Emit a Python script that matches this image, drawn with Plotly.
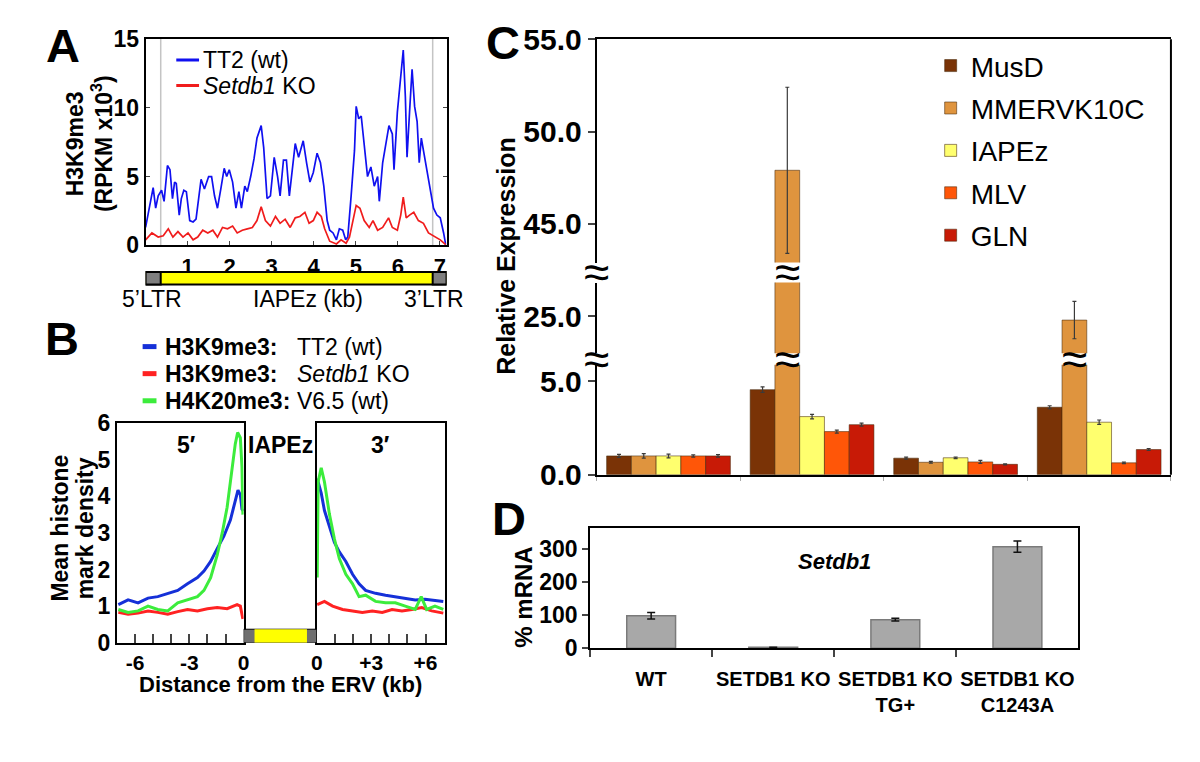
import plotly.graph_objects as go

FONT = "Liberation Sans, Arial, Helvetica, sans-serif"
W, H = 1200, 762

# ---------------- Panel A : H3K9me3 along IAPEz ----------------
A_kb_wt = [0.0, 0.15, 0.18, 0.24, 0.30, 0.38, 0.44, 0.52, 0.58, 0.64, 0.69, 0.73, 0.80, 0.85, 0.91,
           0.97, 1.05, 1.13, 1.20, 1.32, 1.40, 1.50, 1.57, 1.64, 1.71, 1.79, 1.87, 1.93, 1.99, 2.07,
           2.15, 2.22, 2.28, 2.36, 2.42, 2.50, 2.58, 2.65, 2.75, 2.81, 2.89, 2.97, 3.06, 3.14, 3.20,
           3.28, 3.35, 3.42, 3.50, 3.56, 3.64, 3.70, 3.75, 3.83, 3.91, 3.99, 4.08, 4.16, 4.24, 4.32,
           4.38, 4.46, 4.54, 4.61, 4.69, 4.76, 4.81, 4.89, 4.97, 5.01, 5.07, 5.13, 5.20, 5.28, 5.36,
           5.44, 5.52, 5.56, 5.64, 5.71, 5.79, 5.87, 5.91, 5.99, 6.07, 6.13, 6.18, 6.22, 6.28, 6.34,
           6.40, 6.46, 6.51, 6.56, 6.61, 6.69, 6.77, 6.85, 6.93, 7.01, 7.09, 7.14]
A_wt = [1.3, 3.6, 4.2, 2.7, 3.6, 4.0, 3.2, 5.8, 5.5, 3.4, 4.6, 4.5, 2.2, 3.4, 4.0,
        3.9, 1.8, 1.7, 1.9, 4.8, 4.1, 5.0, 5.0, 3.6, 2.7, 4.1, 5.6, 5.0, 5.5, 4.6,
        2.7, 3.9, 2.7, 4.3, 3.9, 5.0, 6.3, 7.8, 8.7, 7.1, 3.4, 3.6, 6.4, 5.0, 3.6,
        6.2, 6.2, 3.6, 5.7, 7.4, 6.4, 7.1, 7.6, 6.0, 4.6, 5.3, 6.7, 6.0, 4.3, 1.8,
        1.1, 0.9, 0.4, 1.2, 1.1, 0.4, 0.6, 3.6, 6.9, 10.1, 9.2, 9.4, 7.4, 5.0, 5.7,
        4.3, 5.0, 3.2, 6.0, 7.4, 8.7, 8.1, 5.5, 9.7, 12.0, 14.2, 10.8, 6.4, 9.7, 12.8,
        10.1, 9.0, 6.0, 7.8, 6.9, 5.5, 4.1, 2.7, 2.2, 2.0, 0.9, 0.05]
A_kb_ko = [0.0, 0.15, 0.30, 0.42, 0.54, 0.65, 0.77, 0.89, 1.01, 1.13, 1.24, 1.36, 1.48, 1.60, 1.71,
           1.83, 1.95, 2.07, 2.18, 2.30, 2.42, 2.54, 2.65, 2.75, 2.85, 2.97, 3.09, 3.20, 3.32, 3.44,
           3.56, 3.67, 3.79, 3.89, 3.99, 4.08, 4.18, 4.26, 4.38, 4.54, 4.65, 4.77, 4.85, 4.93, 5.01,
           5.10, 5.20, 5.32, 5.41, 5.52, 5.64, 5.78, 5.87, 5.99, 6.07, 6.13, 6.20, 6.28, 6.38, 6.49,
           6.61, 6.73, 6.89, 7.01, 7.14]
A_ko = [0.4, 0.9, 0.6, 0.7, 1.2, 0.6, 1.0, 0.6, 0.9, 0.4, 0.6, 1.1, 0.9, 1.1, 0.6,
        1.3, 1.2, 1.4, 0.9, 1.1, 1.2, 1.3, 1.8, 2.8, 1.8, 1.4, 2.1, 1.6, 1.9, 1.3,
        2.0, 2.1, 2.4, 1.6, 1.8, 2.4, 2.1, 1.2, 0.3, 0.1, 0.4, 0.15, 0.6, 1.8, 2.9,
        2.7, 1.8, 1.3, 1.8, 1.1, 1.3, 2.0, 1.3, 1.1, 2.2, 3.5, 2.0, 2.2, 2.4, 1.8,
        1.6, 0.9, 0.6, 0.4, 0.05]
A_xticks = [1, 2, 3, 4, 5, 6, 7]
A_yticks = [0, 5, 10, 15]
A_len = 7.16
A_ltr5_end = 0.36
A_ltr3_start = 6.83

# ---------------- Panel B : meta-profiles around ERVs ----------------
B5_kb_wt = [-6.92, -6.38, -5.83, -5.28, -4.74, -4.19, -3.64, -3.10, -2.55, -2.19, -1.82, -1.46,
            -1.09, -0.73, -0.46, -0.31, -0.18, -0.09, -0.02]
B5_wt = [1.04, 1.17, 1.09, 1.22, 1.26, 1.35, 1.43, 1.61, 1.78, 1.96, 2.22, 2.57,
         2.91, 3.35, 3.87, 4.17, 4.04, 3.65, 3.6]
B5_kb_h4 = [-6.92, -6.38, -5.83, -5.28, -4.74, -4.19, -3.64, -3.10, -2.55, -2.19, -1.82, -1.46,
            -1.18, -0.91, -0.64, -0.46, -0.33, -0.18, -0.09, -0.04]
B5_h4 = [0.91, 0.83, 0.87, 1.0, 0.91, 0.87, 1.09, 1.17, 1.26, 1.43, 1.78, 2.39,
         3.0, 3.7, 4.65, 5.43, 5.74, 5.6, 4.8, 3.5]
B5_kb_ko = [-6.92, -6.38, -5.83, -5.28, -4.74, -4.19, -3.64, -3.10, -2.55, -2.0, -1.46, -0.91,
            -0.36, -0.18, -0.04]
B5_ko = [0.83, 0.78, 0.81, 0.87, 0.83, 0.78, 0.85, 0.91, 0.87, 0.93, 0.96, 0.93, 1.04, 1.0, 0.65]

B3_kb_wt = [0.02, 0.24, 0.42, 0.69, 0.97, 1.24, 1.60, 1.97, 2.33, 2.69, 3.24, 3.79, 4.33, 4.88,
            5.43, 5.97, 6.52, 6.98]
B3_wt = [4.48, 4.09, 3.61, 3.17, 2.74, 2.48, 2.22, 1.87, 1.61, 1.43, 1.35, 1.30, 1.26, 1.22,
         1.17, 1.19, 1.16, 1.13]
B3_kb_h4 = [0.02, 0.07, 0.24, 0.42, 0.69, 0.97, 1.24, 1.60, 1.97, 2.33, 2.69, 3.24, 3.79, 4.33,
            4.88, 5.43, 5.76, 6.06, 6.52, 6.98]
B3_h4 = [1.78, 4.39, 4.78, 4.39, 3.52, 2.83, 2.30, 1.87, 1.61, 1.26, 1.30, 1.13, 1.09, 1.09,
         1.0, 0.91, 1.26, 0.91, 1.0, 0.91]
B3_kb_ko = [0.02, 0.42, 0.87, 1.42, 1.97, 2.51, 3.06, 3.61, 4.15, 4.70, 5.25, 5.79, 6.34, 6.98]
B3_ko = [1.04, 1.13, 1.0, 0.91, 0.87, 0.83, 0.87, 0.83, 0.91, 0.87, 0.91, 0.96, 0.87, 0.81]
B_left_range = [-7, 0]
B_right_range = [0, 7.05]
B_yticks = [0, 1, 2, 3, 4, 5, 6]
B_left_ticks = [-6, -3, 0]
B_left_labels = ["-6", "-3", "0"]
B_right_ticks = [0, 3, 6]
B_right_labels = ["0", "+3", "+6"]

# ---------------- Panel C : relative expression ----------------
C_groups = ["WT", "SETDB1 KO", "SETDB1 KO TG+", "SETDB1 KO C1243A"]
C_series = ["MusD", "MMERVK10C", "IAPEz", "MLV", "GLN"]
C_MusD = [1.0, 4.54, 0.88, 3.60]
C_MMERVK10C = [1.0, 47.9, 0.66, 24.8]
C_IAPEz = [1.0, 3.10, 0.90, 2.80]
C_MLV = [1.0, 2.30, 0.68, 0.63]
C_GLN = [1.0, 2.67, 0.55, 1.34]
C_MusD_err = [0.08, 0.15, 0.05, 0.08]
C_MMERVK10C_err = [0.12, 4.5, 0.05, 1.0]
C_IAPEz_err = [0.10, 0.12, 0.04, 0.12]
C_MLV_err = [0.06, 0.08, 0.08, 0.04]
C_GLN_err = [0.07, 0.08, 0.03, 0.05]
C_colors = ["#7a3306", "#df943e", "#ffff6e", "#ff5608", "#c81a06"]
C_ticks_low = [0, 5]
C_ticks_mid = [25]
C_ticks_top = [45, 50, 55]

# ---------------- Panel D : Setdb1 mRNA ----------------
D_groups = ["WT", "SETDB1 KO", "SETDB1 KO<br>TG+", "SETDB1 KO<br>C1243A"]
D_mrna = [98, 3, 86, 306]
D_err = [10, 0, 4, 17]
D_yticks = [0, 100, 200, 300]


def px(x):
    return x / W


def py(y):
    return 1 - y / H


def b(v):
    return "<b>%s</b>" % v


fig = go.Figure()

# ---- Panel A traces
A_blue, A_red = "#1010f0", "#f01c1c"
fig.add_trace(go.Scatter(x=A_kb_wt, y=A_wt, mode="lines", line=dict(color=A_blue, width=1.7),
                         xaxis="x", yaxis="y", showlegend=False))
fig.add_trace(go.Scatter(x=A_kb_ko, y=A_ko, mode="lines", line=dict(color=A_red, width=1.7),
                         xaxis="x", yaxis="y", showlegend=False))

# ---- Panel B traces
B_blue, B_red, B_green = "#1530d8", "#ff2222", "#3cec3c"
for xs, ys, col in [(B5_kb_ko, B5_ko, B_red), (B5_kb_wt, B5_wt, B_blue), (B5_kb_h4, B5_h4, B_green)]:
    fig.add_trace(go.Scatter(x=xs, y=ys, mode="lines", line=dict(color=col, width=3),
                             xaxis="x2", yaxis="y2", showlegend=False))
for xs, ys, col in [(B3_kb_ko, B3_ko, B_red), (B3_kb_wt, B3_wt, B_blue), (B3_kb_h4, B3_h4, B_green)]:
    fig.add_trace(go.Scatter(x=xs, y=ys, mode="lines", line=dict(color=col, width=3),
                             xaxis="x4", yaxis="y4", showlegend=False))

# ---- Panel C traces (same bars drawn on 3 broken-axis segments)
C_vals = [C_MusD, C_MMERVK10C, C_IAPEz, C_MLV, C_GLN]
C_errs = [C_MusD_err, C_MMERVK10C_err, C_IAPEz_err, C_MLV_err, C_GLN_err]
for seg, (xa, ya) in enumerate([("x5", "y5"), ("x6", "y6"), ("x7", "y7")]):
    for name, vals, errs, col in zip(C_series, C_vals, C_errs, C_colors):
        fig.add_trace(go.Bar(
            x=C_groups, y=vals, name=name, xaxis=xa, yaxis=ya,
            marker=dict(color=col, line=dict(color="rgba(70,40,10,0.55)", width=1)),
            error_y=dict(type="data", array=errs, color="#3a3a3a", thickness=1.2, width=2),
            legendgroup=name, showlegend=(seg == 0), legend="legend",
        ))

# ---- Panel D trace
fig.add_trace(go.Bar(
    x=D_groups, y=D_mrna, width=0.4, xaxis="x8", yaxis="y8", showlegend=False,
    marker=dict(color="#a8a8a8", line=dict(color="#7a7a7a", width=1.5)),
    error_y=dict(type="data", array=D_err, color="#111111", thickness=1.5, width=4),
))

tf = dict(family=FONT, size=22, color="black", weight="bold")
axis_common = dict(showgrid=False, zeroline=False, showline=True, linecolor="black", linewidth=2)

C_bargap = 0.138
layout = dict(
    width=W, height=H, margin=dict(l=0, r=0, t=0, b=0),
    paper_bgcolor="white", plot_bgcolor="rgba(0,0,0,0)",
    font=dict(family=FONT, color="black"),
    barmode="group", bargap=C_bargap, bargroupgap=0,
    showlegend=True,
    # Panel A
    xaxis=dict(domain=[px(141), px(445)], range=[0, A_len], anchor="y", tickvals=A_xticks,
               ticktext=[b(v) for v in A_xticks], ticks="inside", ticklen=4, mirror=True,
               tickfont=tf, **axis_common),
    yaxis=dict(domain=[py(239), py(23)], range=[0, 15], anchor="x", tickvals=A_yticks,
               ticktext=[b(v) for v in A_yticks], ticks="inside", ticklen=4, mirror="ticks",
               tickfont=dict(tf, size=23), **axis_common),
    # Panel B
    xaxis2=dict(domain=[px(112), px(240)], range=B_left_range, anchor="y2", tickvals=B_left_ticks,
                ticktext=[b(v) for v in B_left_labels], ticks="inside", ticklen=9, tickwidth=2,
                minor=dict(dtick=1, tick0=0, ticks="inside", ticklen=9, tickwidth=2),
                ticklabelstandoff=0, mirror=True, tickfont=dict(tf, size=21), **axis_common),
    yaxis2=dict(domain=[py(655), py(425)], range=[0, 6], anchor="x2", tickvals=B_yticks,
                ticktext=[b(v) for v in B_yticks], ticks="", mirror=True,
                tickfont=dict(tf, size=23), **axis_common),
    xaxis3=dict(domain=[px(240), px(314)], range=[0, 1], anchor="y3", showticklabels=False,
                ticks="", mirror=True, **axis_common),
    yaxis3=dict(domain=[py(655), py(425)], range=[0, 6], anchor="x3", showticklabels=False,
                ticks="", showgrid=False, zeroline=False, showline=False),
    xaxis4=dict(domain=[px(314), px(443)], range=B_right_range, anchor="y4", tickvals=B_right_ticks,
                ticktext=[b(v) for v in B_right_labels], ticks="inside", ticklen=9, tickwidth=2,
                minor=dict(dtick=1, tick0=0, ticks="inside", ticklen=9, tickwidth=2),
                ticklabelstandoff=0, mirror=True, tickfont=dict(tf, size=21), **axis_common),
    yaxis4=dict(domain=[py(655), py(425)], range=[0, 6], anchor="x4", showticklabels=False,
                ticks="", mirror=True, **axis_common),
    # Panel C (broken axis: bottom / middle / top)
    xaxis5=dict(domain=[px(596.7), px(1176.7)], anchor="y5", type="category",
                categoryarray=C_groups, showticklabels=False, ticks="outside", tickson="boundaries",
                ticklen=4, tickcolor="#aaaaaa", **axis_common),
    yaxis5=dict(domain=[py(479), py(364)], range=[0, 5.87], anchor="x5", tickvals=C_ticks_low,
                ticktext=[b("%.1f" % v) for v in C_ticks_low], ticks="outside", ticklen=7,
                tickwidth=2, tickfont=dict(tf, size=30), **axis_common),
    xaxis6=dict(domain=[px(596.7), px(1176.7)], anchor="y6", type="category",
                categoryarray=C_groups, showticklabels=False, ticks="", showgrid=False,
                zeroline=False, showline=False),
    yaxis6=dict(domain=[py(352), py(278)], range=[23.02, 26.81], anchor="x6", tickvals=C_ticks_mid,
                ticktext=[b("%.1f" % v) for v in C_ticks_mid], ticks="outside", ticklen=7,
                tickwidth=2, tickfont=dict(tf, size=30), **axis_common),
    xaxis7=dict(domain=[px(596.7), px(1176.7)], anchor="y7", type="category", side="top",
                categoryarray=C_groups, showticklabels=False, ticks="", **axis_common),
    yaxis7=dict(domain=[py(257), py(23.3)], range=[42.9, 55], anchor="x7", tickvals=C_ticks_top,
                ticktext=[b("%.1f" % v) for v in C_ticks_top], ticks="outside", ticklen=7,
                tickwidth=2, tickfont=dict(tf, size=30), **axis_common),
    # Panel D
    xaxis8=dict(domain=[px(590), px(1083.3)], anchor="y8", type="category", categoryarray=D_groups,
                tickvals=D_groups, ticktext=[b(v) for v in D_groups], tickangle=0,
                ticks="outside", tickson="boundaries", ticklen=7, tickwidth=1.5, mirror=True,
                ticklabelstandoff=12, tickfont=dict(tf, size=20), **axis_common),
    yaxis8=dict(domain=[py(660.7), py(535)], range=[0, 362], anchor="x8", tickvals=D_yticks,
                ticktext=[b(v) for v in D_yticks], ticks="outside", ticklen=6, tickwidth=2,
                mirror=True, tickfont=dict(tf, size=23), **axis_common),
    legend=dict(x=px(934), y=py(25), xanchor="left", yanchor="top", bgcolor="rgba(0,0,0,0)",
                font=dict(family=FONT, size=28, color="black"), tracegroupgap=3,
                traceorder="grouped", itemclick=False, itemdoubleclick=False),
)
fig.update_layout(**layout)

shapes = []
annotations = []


def ann(text, x, y, size, xanchor="center", angle=0, yanchor="middle", xref="paper", yref="paper"):
    annotations.append(dict(text=text, x=x, y=y, xref=xref, yref=yref, showarrow=False,
                            xanchor=xanchor, yanchor=yanchor, textangle=angle,
                            font=dict(family=FONT, size=size, color="black")))


# Panel letters
for letter, x, y in [("A", 58, 30), ("B", 57, 336), ("C", 502, 27), ("D", 508, 525)]:
    ann(b(letter), px(x), py(y), 47)

# ---- Panel A decorations
for xv in [A_ltr5_end, A_ltr3_start]:
    shapes.append(dict(type="line", xref="x", yref="y domain", x0=xv, x1=xv, y0=0, y1=1,
                       line=dict(color="#c4c4c4", width=1.5), layer="below"))
bar_y0, bar_y1 = py(280), py(267)
shapes.append(dict(type="rect", xref="x", yref="paper", x0=0, x1=A_len, y0=bar_y0, y1=bar_y1,
                   fillcolor="#ffff00", line=dict(color="black", width=2)))
for a, c in [(0, A_ltr5_end), (A_ltr3_start, A_len)]:
    shapes.append(dict(type="rect", xref="x", yref="paper", x0=a, x1=c, y0=bar_y0, y1=bar_y1,
                       fillcolor="#7f7f7f", line=dict(color="black", width=2)))
ann("5\u2019LTR", px(147), py(295), 23)
ann("IAPEz (kb)", px(305), py(295), 23)
ann("3\u2019LTR", px(432), py(295), 23)
# legend A
for yy, col, txt in [(45, A_blue, "TT2 (wt)"), (71.7, A_red, "<i>Setdb1</i> KO")]:
    shapes.append(dict(type="line", xref="paper", yref="paper", x0=px(172), x1=px(195),
                       y0=py(yy), y1=py(yy), line=dict(color=col, width=3)))
    ann(txt, px(197), py(yy), 23, xanchor="left")
ann(b("H3K9me3"), px(70), py(133), 23, angle=-90)
ann(b("(RPKM x10<sup>3</sup>)"), px(97), py(133), 23, angle=-90)

# ---- Panel B decorations
shapes.append(dict(type="rect", xref="x3", yref="y2", x0=0, x1=1, y0=0, y1=0.37,
                   fillcolor="#6f6f6f", line=dict(color="black", width=1)))
shapes.append(dict(type="rect", xref="x3", yref="y2", x0=0.149, x1=0.865, y0=0, y1=0.37,
                   fillcolor="#ffff00", line=dict(width=0)))
ann(b("5\u2032"), px(182), py(448), 23)
ann(b("IAPEz"), px(277), py(448), 23)
ann(b("3\u2032"), px(378), py(448), 23)
for yy, col, lab, rest in [(345, B_blue, "H3K9me3:", "TT2 (wt)"),
                           (373.3, B_red, "H3K9me3:", "<i>Setdb1</i> KO"),
                           (401.7, B_green, "H4K20me3:", "V6.5 (wt)")]:
    shapes.append(dict(type="line", xref="paper", yref="paper", x0=px(138), x1=px(152),
                       y0=py(yy), y1=py(yy), line=dict(color=col, width=5)))
    ann(b(lab), px(159), py(yy), 23, xanchor="left")
    ann(rest, px(292), py(yy), 23, xanchor="left")
ann(b("Mean histone"), px(55), py(535), 23, angle=-90)
ann(b("mark density"), px(80), py(535), 23, angle=-90)
ann(b("Distance from the ERV (kb)"), px(277), py(699), 22)

# ---- Panel C decorations
shapes.append(dict(type="line", xref="paper", yref="paper", x0=px(1176.7), x1=px(1176.7),
                   y0=py(479), y1=py(23.3), line=dict(color="black", width=2)))
ann(b("Relative Expression"), px(505), py(250), 25, angle=-90)
for yy in [267, 358]:
    ann("\u2248", px(596.7), py(yy), 46)
bw = (1 - C_bargap) / len(C_series)
off = -(1 - C_bargap) / 2 + bw * 1.5
ann("\u2248", 1 + off, py(267), 46, xref="x5")
ann("\u2248", 1 + off, py(358), 46, xref="x5")
ann("\u2248", 3 + off, py(358), 46, xref="x5")

# ---- Panel D decorations
ann("<b><i>Setdb1</i></b>", px(836.7), py(570), 22)
ann(b("% mRNA"), px(523), py(607), 24, angle=-90)

fig.update_layout(shapes=shapes, annotations=annotations)

fig.write_html("out.html", config={"displayModeBar": False},
               post_script="document.body.style.margin='0';document.body.style.overflow='hidden';")
